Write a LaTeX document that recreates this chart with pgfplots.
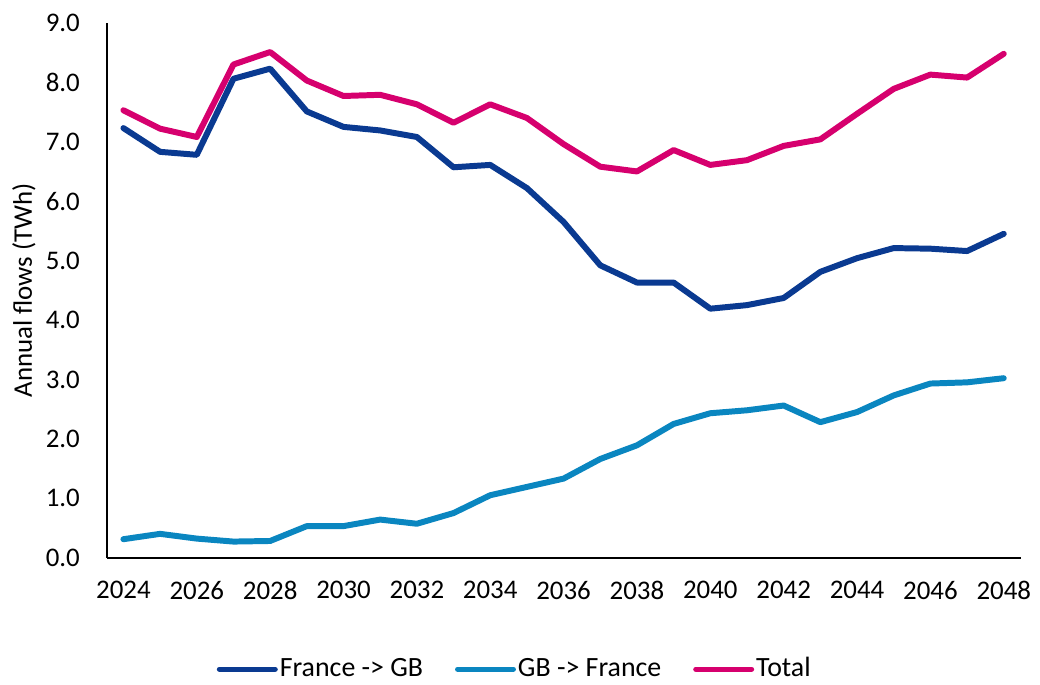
\documentclass[border=0pt]{standalone}
\usepackage{fontspec}
\setmainfont{Carlito}
\usepackage{pgfplots}
\pgfplotsset{compat=1.18}
\definecolor{fgb}{RGB}{10,58,145}
\definecolor{gbf}{RGB}{10,134,192}
\definecolor{tot}{RGB}{214,0,110}
\begin{document}
\fontsize{13.5pt}{16pt}\selectfont
\begin{tikzpicture}
\begin{axis}[
  at={(0,0)}, anchor=south west,
  scale only axis,
  width=459pt, height=268.5pt,
  xmin=2023.54, xmax=2048.46,
  ymin=0, ymax=9,
  axis x line*=bottom, axis y line*=left,
  axis line style={black, line width=1pt},
  major tick length=0pt,
  xtick={2024,2026,...,2048},
  ytick={0,1,...,9},
  /pgf/number format/assume math mode=true,
  x tick label style={/pgf/number format/1000 sep={}, yshift=-7pt},
  y tick label style={/pgf/number format/.cd, fixed, fixed zerofill, precision=1, /tikz/.cd, xshift=-8.7pt},
  tick label style={font=\fontsize{13.5pt}{16pt}\selectfont, text=black},
  ylabel={Annual flows (TWh)},
  every axis y label/.style={at={(axis description cs:-0.0904,0.5)}, rotate=90, anchor=center, font=\fontsize{13.5pt}{16pt}\selectfont},
  legend columns=3,
  legend style={draw=none, at={(axis description cs:0.4466,-0.2086)}, anchor=center,
    font=\fontsize{14pt}{16pt}\selectfont, inner sep=0pt,
    nodes={inner sep=1pt},
    /tikz/every even column/.append style={column sep=15pt}},
  legend image code/.code={\draw[#1, line width=2.6pt] (0pt,0pt) -- (28pt,0pt);},
  every axis plot/.append style={line width=3pt, line join=round, line cap=round, mark=none},
]
\addplot[color=fgb] coordinates {
(2024,7.23) (2025,6.83) (2026,6.78) (2027,8.06) (2028,8.23) (2029,7.51)
(2030,7.25) (2031,7.19) (2032,7.08) (2033,6.57) (2034,6.61) (2035,6.22)
(2036,5.65) (2037,4.92) (2038,4.63) (2039,4.63) (2040,4.19) (2041,4.25)
(2042,4.37) (2043,4.81) (2044,5.04) (2045,5.21) (2046,5.20) (2047,5.16)
(2048,5.45)};
\addlegendentry{France -> GB}
\addplot[color=gbf] coordinates {
(2024,0.31) (2025,0.40) (2026,0.32) (2027,0.27) (2028,0.28) (2029,0.53)
(2030,0.53) (2031,0.64) (2032,0.57) (2033,0.75) (2034,1.05) (2035,1.19)
(2036,1.33) (2037,1.66) (2038,1.89) (2039,2.25) (2040,2.43) (2041,2.48)
(2042,2.56) (2043,2.28) (2044,2.45) (2045,2.73) (2046,2.93) (2047,2.95)
(2048,3.02)};
\addlegendentry{GB -> France}
\addplot[color=tot] coordinates {
(2024,7.53) (2025,7.22) (2026,7.08) (2027,8.30) (2028,8.51) (2029,8.03)
(2030,7.77) (2031,7.79) (2032,7.63) (2033,7.32) (2034,7.63) (2035,7.40)
(2036,6.96) (2037,6.58) (2038,6.50) (2039,6.86) (2040,6.61) (2041,6.69)
(2042,6.93) (2043,7.04) (2044,7.47) (2045,7.89) (2046,8.13) (2047,8.08)
(2048,8.48)};
\addlegendentry{Total}
\end{axis}
\path (-53.5pt,-63.5pt) rectangle (466pt,280pt);
\end{tikzpicture}
\end{document}
